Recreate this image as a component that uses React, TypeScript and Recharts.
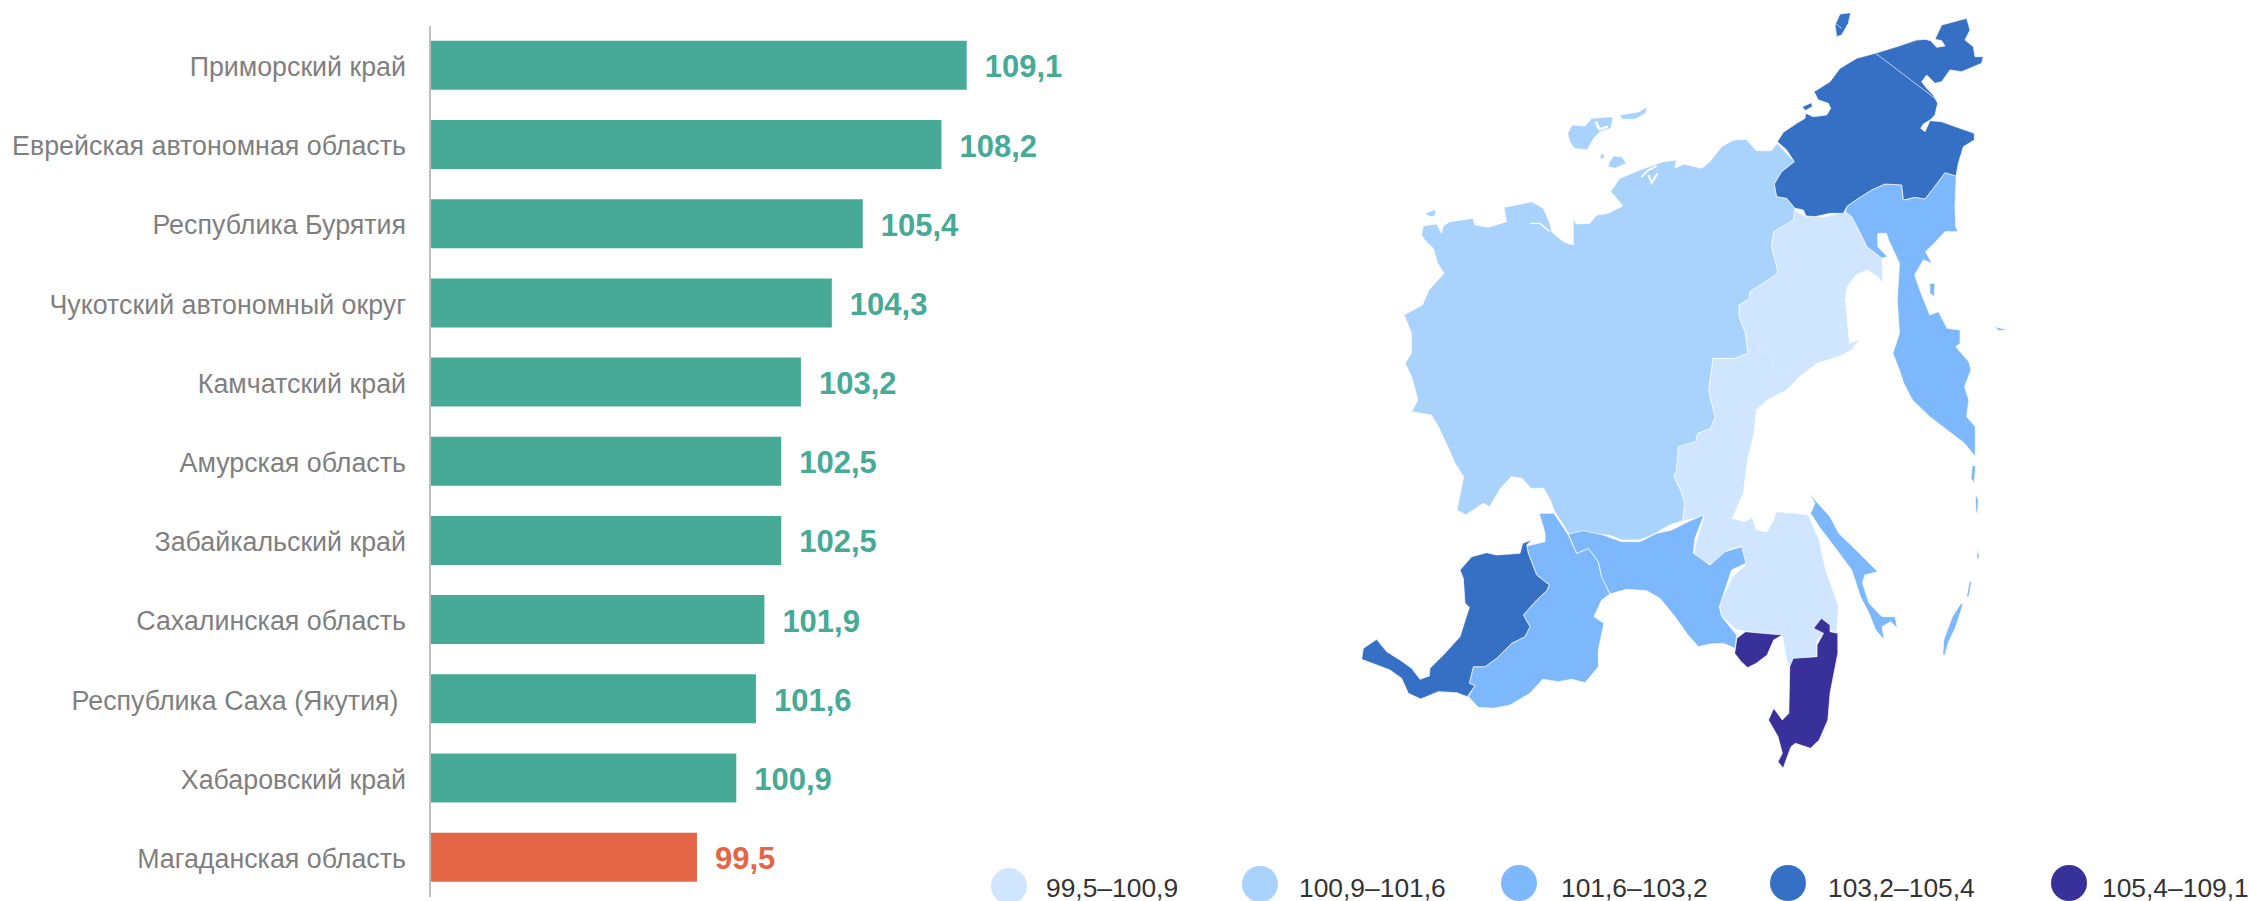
import { BarChart, Bar, Cell, LabelList, XAxis, YAxis } from "recharts";

const regions = [
  "Приморский край",
  "Еврейская автономная область",
  "Республика Бурятия",
  "Чукотский автономный округ",
  "Камчатский край",
  "Амурская область",
  "Забайкальский край",
  "Сахалинская область",
  "Республика Саха (Якутия)\u00A0",
  "Хабаровский край",
  "Магаданская область",
];
const values = [109.1, 108.2, 105.4, 104.3, 103.2, 102.5, 102.5, 101.9, 101.6, 100.9, 99.5];

const legendLabels = ["99,5–100,9", "100,9–101,6", "101,6–103,2", "103,2–105,4", "105,4–109,1"];

const GREEN = "#46AA96";
const RED = "#E36746";
const PALE = "#D0E6FF";
const LIGHT = "#A9D2FD";
const MID = "#7DB8FC";
const DARK = "#3570C4";
const NAVY = "#38319A";
const legendColors = [PALE, LIGHT, MID, DARK, NAVY];

const data = regions.map((name, i) => ({ name, value: values[i] }));

// map outlines, traced in a 1568 x 2400 space and scaled into place
const mapShapes: [string, string][] = [
  [PALE, "1049,630 1075,650 1120,650 1165,635 1180,650 1200,700 1215,740 1250,775 1252,850 1240,830 1215,810 1190,825 1170,860 1165,900 1170,960 1175,1030 1198,1018 1180,1050 1150,1070 1100,1090 1060,1130 1030,1170 985,1200 960,1230 955,1300 940,1380 930,1480 905,1555 935,1565 950,1550 960,1590 985,1595 1000,1560 1005,1535 1050,1540 1080,1545 1105,1620 1120,1710 1150,1820 1145,1900 1130,1890 1100,1920 1100,1970 1045,1980 1040,2010 1030,1980 1020,1910 1000,1905 940,1895 915,1890 880,1850 875,1810 905,1730 935,1695 925,1640 895,1650 860,1695 815,1670 820,1630 840,1550 790,1562 795,1510 785,1470 770,1430 775,1340 820,1325 825,1300 855,1285 865,1250 855,1200 850,1170 860,1075 910,1075 940,1060 935,1000 920,950 920,915 945,895 945,875 975,850 1010,820 1005,790 995,740 1000,695 1011,680"],
  [LIGHT, "188,705 192,678 223,672 234,700 238,678 253,665 307,655 311,675 342,682 384,665 378,622 407,615 442,605 469,625 484,670 488,695 515,725 538,735 538,655 545,672 576,670 592,645 618,640 652,618 638,595 624,575 645,535 692,510 745,485 776,480 772,505 792,492 834,505 853,485 880,440 907,420 937,418 960,452 995,452 1008,430 1048,485 1019,515 1002,552 1007,590 1030,595 1049,625 1045,660 1000,695 995,740 1005,790 1010,820 975,850 945,875 945,895 920,915 920,950 935,1000 940,1060 910,1075 860,1075 850,1170 855,1200 865,1250 855,1285 825,1300 820,1325 780,1340 775,1415 770,1430 785,1470 795,1510 790,1562 760,1575 720,1605 690,1620 650,1620 620,1605 590,1605 570,1595 530,1605 515,1575 495,1535 485,1500 470,1465 440,1465 420,1435 395,1430 370,1465 345,1520 330,1510 290,1545 270,1530 285,1430 265,1390 245,1330 225,1275 210,1245 165,1235 180,1200 165,1130 150,1090 165,1060 165,1000 148,945 190,915 205,870 240,820 225,790 215,745 195,720"],
  [LIGHT, "525,400 535,375 565,378 580,355 630,350 625,385 600,395 585,415 570,450 540,445 530,425"],
  [LIGHT, "645,345 690,335 708,320 705,340 680,358 650,358"],
  [LIGHT, "620,490 630,468 650,470 660,490 635,505 618,500"],
  [LIGHT, "600,465 608,460 610,478 600,475"],
  [LIGHT, "196,640 221,628 219,648 207,650"],
  [MID, "1170,618 1195,595 1226,570 1257,552 1295,555 1299,600 1326,592 1349,597 1368,565 1395,518 1421,528 1418,620 1420,680 1425,695 1395,695 1370,730 1350,755 1365,790 1345,780 1325,825 1340,880 1360,945 1380,935 1400,985 1430,990 1430,1030 1420,1040 1450,1085 1455,1110 1440,1160 1450,1200 1445,1250 1465,1280 1465,1370 1440,1330 1400,1290 1360,1250 1320,1200 1300,1150 1290,1110 1275,1060 1290,1000 1285,900 1290,790 1265,720 1260,700 1240,700 1240,740 1262,770 1250,775 1215,740 1200,700 1180,650 1165,635"],
  [MID, "1360,850 1372,850 1370,890 1360,880"],
  [MID, "1510,980 1540,990 1520,992"],
  [MID, "1080,1475 1095,1500 1130,1550 1150,1600 1190,1650 1240,1715 1210,1725 1205,1750 1220,1810 1250,1850 1280,1850 1285,1885 1270,1865 1250,1880 1255,1920 1235,1890 1220,1840 1200,1790 1180,1710 1140,1640 1105,1580 1085,1540 1095,1510"],
  [MID, "1458,1395 1466,1400 1462,1450 1455,1435"],
  [MID, "1465,1480 1472,1500 1470,1545 1466,1530"],
  [MID, "1472,1640 1474,1680 1468,1670"],
  [MID, "1452,1740 1456,1750 1450,1790 1445,1790"],
  [MID, "1432,1810 1436,1815 1420,1880 1402,1930 1395,1965 1390,1965 1392,1920 1412,1850"],
  [NAVY, "935,1895 975,1900 1020,1905 1000,1920 985,1965 960,1990 940,2003 925,1985 910,1960 915,1915"],
  [NAVY, "1110,1855 1130,1875 1130,1895 1148,1900 1148,1960 1130,2080 1125,2160 1105,2220 1085,2245 1050,2230 1040,2240 1030,2275 1022,2305 1010,2285 1020,2260 1010,2210 988,2160 1000,2125 1020,2160 1035,2140 1037,2000 1045,1975 1100,1970 1100,1935 1115,1900 1092,1885"],
];

// north-east block, traced at 3x from x 1640, y 0
const northShapes: [string, string][] = [
  [DARK, "403,552 425,515 463,485 440,450 412,425 430,397 470,370 495,355 497,340 520,350 560,345 572,325 565,310 535,300 522,275 570,245 600,205 650,175 705,160 770,140 830,120 855,118 872,122 890,142 915,138 905,122 885,118 905,75 980,55 990,90 975,120 1000,140 1005,170 1030,170 1025,190 965,215 930,210 905,245 885,250 860,225 845,245 860,265 880,285 893,310 885,345 870,360 850,372 842,385 855,395 870,362 905,365 960,385 1003,400 1003,420 970,440 955,490 948,528 915,518 880,565 855,597 825,592 790,600 785,555 735,552 695,570 655,595 622,618 610,640 570,640 525,650 498,648 490,630 465,625 440,595 410,590"],
  [DARK, "487,320 515,308 517,320 495,332"],
  [DARK, "585,75 600,42 632,38 625,70 605,105 590,110"],
];

// south-west block, traced at 3x from x 1350, y 520
const southShapes: [string, string][] = [
  [MID, "568,-20 612,-20 625,0 655,45 680,100 715,85 745,125 755,170 780,222 755,240 732,290 762,310 745,390 745,440 705,488 665,478 625,485 578,478 540,520 480,555 430,565 385,562 355,530 375,497 358,490 370,440 405,440 440,415 485,370 525,350 540,320 520,285 560,240 590,212 598,195 560,165 535,100 530,78 585,65 585,40"],
  [MID, "655,42 700,32 760,45 815,65 870,65 920,40 965,30 1025,0 1062,-15 1035,55 1030,100 1080,135 1125,95 1175,80 1188,130 1145,150 1130,195 1108,260 1115,290 1160,345 1155,385 1120,370 1080,372 1045,380 1010,340 975,290 930,235 890,212 830,208 780,222 755,170 745,125 715,85 680,100"],
  [DARK, "545,60 530,75 535,100 560,165 598,195 590,212 560,240 520,285 540,320 525,350 485,370 440,415 405,440 370,440 358,490 375,497 352,530 320,518 265,515 212,537 175,520 155,475 120,450 35,418 40,385 80,358 110,395 150,420 185,445 210,478 238,468 240,445 280,405 330,350 358,262 345,250 340,175 330,150 365,110 410,98 440,105 510,100 518,70"],
];

const legendX = [1009, 1260, 1519, 1788, 2069];
const legendY = [886, 884, 883, 883, 883];
const legendTextX = [1046, 1299, 1561, 1828, 2102];

function ValueLabel(props: any) {
  const { x, y, width, height, index, value } = props;
  return (
    <text
      x={x + width + 18}
      y={y + height / 2 + 12}
      fontSize={31}
      fontWeight="bold"
      fontFamily="Liberation Sans"
      fill={index === values.length - 1 ? RED : GREEN}
    >
      {String(value).replace(".", ",")}
    </text>
  );
}

function MapShapes({ shapes, transform }: { shapes: [string, string][]; transform: string }) {
  return (
    <g transform={transform}>
      {shapes.map(([fill, points], i) => (
        <polygon
          key={i}
          points={points}
          fill={fill}
          stroke="#fff"
          strokeWidth={0.7}
          strokeLinejoin="round"
          vectorEffect="non-scaling-stroke"
        />
      ))}
    </g>
  );
}

export default function App() {
  return (
    <div style={{ position: "absolute", left: 0, top: 0, width: 2250, height: 901, background: "#fff" }}>
      <BarChart
        width={2250}
        height={901}
        data={data}
        layout="vertical"
        barCategoryGap="18.75%"
        margin={{ top: 26, right: 1258, bottom: 4, left: 0 }}
      >
        <XAxis type="number" domain={[90, 110]} hide />
        <YAxis
          type="category"
          dataKey="name"
          width={430}
          interval={0}
          tickLine={false}
          tickMargin={18}
          tick={{ fill: "#7F7F7F", fontSize: 26.8, fontFamily: "Liberation Sans", dy: 1 }}
          axisLine={{ stroke: "#BFBFBF", strokeWidth: 2 }}
        />
        <Bar dataKey="value" isAnimationActive={false}>
          {data.map((_, i) => (
            <Cell key={i} fill={i === values.length - 1 ? RED : GREEN} />
          ))}
          <LabelList dataKey="value" content={ValueLabel} />
        </Bar>

        {/* MAP */}
        <MapShapes shapes={mapShapes} transform="translate(1340,0) scale(0.43367,0.33333)" />
        <MapShapes shapes={northShapes} transform="translate(1640,0) scale(0.33333)" />
        <MapShapes shapes={southShapes} transform="translate(1350,520) scale(0.33333)" />
        <g transform="translate(1340,0) scale(0.43367,0.33333)" fill="none" stroke="#fff">
          <polyline points="695,532 711,510 730,498" strokeWidth={5} />
          <polyline points="711,525 719,548 732,520" strokeWidth={5} />
          <polyline points="438,670 461,670 484,695" strokeWidth={4} />
          <polyline points="590,365 598,388 618,380" strokeWidth={7} />
          <polyline points="960,1035 1000,1075 1000,1110 1040,1130" strokeWidth={1.5} strokeOpacity={0.5} />
        </g>
        <g transform="translate(1640,0) scale(0.33333)" fill="none" stroke="#fff" strokeWidth={2}>
          <polyline points="707,160 885,295" />
          <polyline points="585,70 605,85" />
        </g>

        {/* LEGEND */}
        {legendLabels.map((label, i) => (
          <g key={label}>
            <circle cx={legendX[i]} cy={legendY[i]} r={18} fill={legendColors[i]} />
            <text x={legendTextX[i]} y={897} fontSize={26.4} fontFamily="Liberation Sans" fill="#333">
              {label}
            </text>
          </g>
        ))}
      </BarChart>
    </div>
  );
}
